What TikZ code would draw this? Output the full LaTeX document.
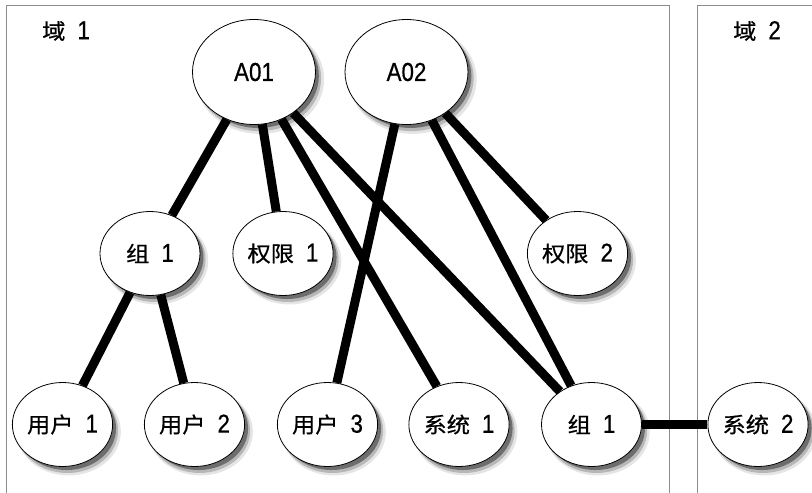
\documentclass[tikz,border=0pt]{standalone}
\usepackage{fontspec}
\setmainfont{Liberation Sans}[FakeStretch=0.86,FakeBold=0.6]
\newfontfamily\cjk{Noto Sans CJK SC}[FakeBold=0.7,FakeStretch=1.08]
\usetikzlibrary{shadows,shapes.geometric}
\newcommand{\lbl}[2]{{\cjk\fontsize{21.5pt}{24pt}\selectfont #1}\hspace{12pt}{\fontsize{26pt}{28pt}\selectfont #2}}
\begin{document}
\begin{tikzpicture}[x=1pt,y=-1pt,
  ent/.style={ellipse, draw=black, line width=0.8pt, fill=white, inner sep=0pt,
    minimum width=100pt, minimum height=84pt,
    drop shadow={shadow xshift=6pt, shadow yshift=-7pt, fill=black, opacity=0.10, shadow scale=1.04},
    drop shadow={shadow xshift=5pt, shadow yshift=-6pt, fill=black, opacity=0.20, shadow scale=1.01},
    drop shadow={shadow xshift=4pt, shadow yshift=-4pt, fill=black, opacity=0.40, shadow scale=0.99}},
  big/.style={ent, minimum width=123pt, minimum height=105pt},
  link/.style={line width=9pt, black},
  domainbox/.style={draw=black!45, line width=0.9pt},
  dlabel/.style={anchor=west, inner sep=0pt}]
\useasboundingbox (0,0) rectangle (812,493);
\fill[white] (0,0) rectangle (812,493);
% domains
\draw[domainbox] (6,500) -- (6,5) -- (669,5) -- (669,500);
\draw[domainbox] (697,500) -- (697,5) -- (820,5);
\node[dlabel] (d1) at (42,31) {\lbl{域}{1}};
\node[dlabel] (d2) at (733,31) {\lbl{域}{2}};
% nodes
\node[big] (a1) at (254,72) {\fontsize{26pt}{28pt}\selectfont A01};
\node[big] (a2) at (406.5,72) {\fontsize{26pt}{28pt}\selectfont A02};
\node[ent] (g1) at (150,253.5) {\lbl{组}{1}};
\node[ent] (p1) at (283,253.5) {\lbl{权限}{1}};
\node[ent] (p2) at (577.5,253.5) {\lbl{权限}{2}};
\node[ent] (u1) at (62.5,424.5) {\lbl{用户}{1}};
\node[ent] (u2) at (194.5,424.5) {\lbl{用户}{2}};
\node[ent] (u3) at (327.5,424.5) {\lbl{用户}{3}};
\node[ent] (s1) at (459,424.5) {\lbl{系统}{1}};
\node[ent] (g2) at (591.5,424.5) {\lbl{组}{1}};
\node[ent] (s2) at (758,424.5) {\lbl{系统}{2}};
% links
\draw[link] (a1) -- (g1);
\draw[link] (a1) -- (p1);
\draw[link] (a1) -- (s1);
\draw[link] (a1) -- (g2);
\draw[link] (a2) -- (u3);
\draw[link] (a2) -- (g2);
\draw[link] (a2) -- (p2);
\draw[link] (g1) -- (u1);
\draw[link] (g1) -- (u2);
\draw[link] (g2) -- (s2);
\end{tikzpicture}
\end{document}
